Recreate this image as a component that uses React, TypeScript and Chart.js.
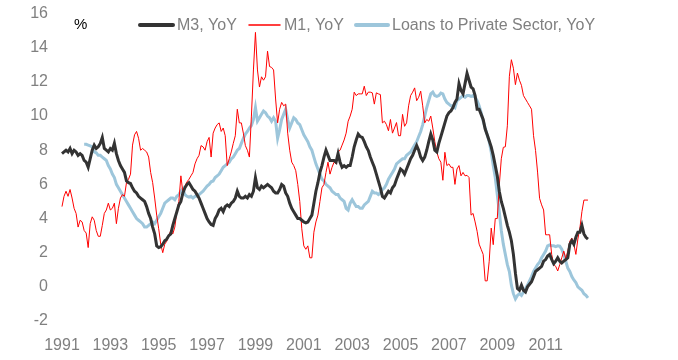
import React, { useEffect, useRef } from "react";
import { Chart, registerables } from "chart.js";

Chart.register(...registerables);

const START_YEAR = 1991;
const TICK_YEARS = [1991, 1993, 1995, 1997, 1999, 2001, 2003, 2005, 2007, 2009, 2011];
const Y_TICKS = [-2, 0, 2, 4, 6, 8, 10, 12, 14, 16];
const SERIES_LABELS = ["M3, YoY", "M1, YoY", "Loans to Private Sector, YoY"];
const UNIT_LABEL = "%";

// Monthly values, Jan 1991 .. Oct 2012
const M3 = [
  7.8, 7.9, 8.0, 7.9, 8.1, 7.8, 8.0, 7.9, 7.7, 7.8, 7.7, 7.4,
  7.3, 7.0, 7.5, 8.0, 8.3, 8.1, 8.2, 8.4, 8.75, 8.1, 8.0, 7.9,
  8.1, 8.0, 8.4, 7.8, 7.4, 7.1, 6.9, 6.7, 6.2, 6.1, 6.05, 5.8,
  5.6, 5.5, 5.3, 5.2, 5.1, 5.0, 4.7, 4.3, 4.0, 3.5, 3.1, 2.4,
  2.3, 2.35, 2.5, 2.7, 2.8, 3.0, 3.1, 3.6, 4.0, 4.4, 4.8, 5.0,
  5.5, 5.8, 6.0, 6.1, 5.9, 5.7, 5.6, 5.4, 5.2, 4.9, 4.6, 4.3,
  4.0, 3.8, 3.65, 3.6, 4.0, 4.2, 4.5, 4.6, 4.4, 4.7, 4.8, 4.7,
  4.9, 5.0, 5.2, 5.6, 5.3, 5.2, 5.2, 5.3, 5.2, 5.4, 5.3, 5.6,
  6.4, 5.8, 5.7, 5.9, 5.8, 5.9, 6.0, 5.9, 5.8, 5.6, 5.5, 5.5,
  5.7, 6.0, 5.9, 5.5, 5.3, 4.9, 4.6, 4.4, 4.2, 4.0, 4.0, 3.9,
  3.8, 3.75, 3.8, 4.0, 4.2, 4.9, 5.6, 6.1, 6.7, 7.1, 7.6, 8.0,
  7.7, 7.4, 7.4, 7.4, 7.3, 7.8, 7.3, 7.0, 7.1, 7.0, 7.1, 7.1,
  7.6, 8.2, 8.6, 8.95, 8.8, 8.75, 8.5, 8.2, 7.98, 7.6, 7.3, 7.0,
  6.6, 6.2, 5.8, 5.3, 5.2, 5.4, 5.6, 5.5, 5.8, 5.95, 6.3, 6.6,
  6.9, 6.8, 6.6, 6.9, 7.2, 7.5, 7.7, 8.0, 8.27, 8.0, 7.6, 7.4,
  7.6, 8.0, 8.5, 8.95, 8.6, 8.0, 7.9, 8.4, 8.8, 9.2, 9.6, 10.0,
  10.2, 10.3, 10.5, 10.8, 11.0, 11.9, 11.5, 11.3, 11.9, 12.5, 12.1, 11.7,
  11.6, 11.2, 10.4, 10.4, 10.1, 9.8, 9.24, 8.9, 8.56, 8.2, 7.7, 7.1,
  6.5, 5.6, 5.0, 4.6, 4.1, 3.6, 3.2, 2.7, 1.9, 0.8, -0.1, -0.2,
  0.1, -0.2, -0.3, 0.0, 0.15, 0.3, 0.6, 0.9, 1.0, 1.1, 1.2, 1.5,
  1.6, 1.8, 1.9, 1.6, 1.35, 1.5, 1.7, 1.5, 1.4, 1.5, 1.6, 1.7,
  2.5, 2.7, 2.5, 2.9, 3.2, 3.2, 3.6, 3.1, 2.9, 2.8,
];

const M1 = [
  4.7, 5.3, 5.6, 5.3, 5.7, 5.2, 4.6, 4.3, 3.5, 3.9, 3.8, 3.3,
  3.15, 2.3, 3.7, 4.1, 3.9, 3.3, 2.96, 2.96, 3.6, 4.3, 4.5, 4.9,
  4.5, 4.6, 4.9, 3.7, 4.6, 5.2, 5.4, 5.3, 6.1, 6.3, 6.6, 8.3,
  8.9, 9.1, 8.7, 8.0, 8.1, 8.0, 7.9, 7.6, 6.7, 6.1, 5.2, 4.2,
  3.4, 2.5, 2.0, 2.5, 2.67, 3.0, 3.3, 3.1, 3.5, 4.4, 5.0, 6.5,
  5.5, 5.9, 6.14, 6.3, 6.5, 6.7, 7.2, 7.5, 7.7, 8.27, 8.2, 8.0,
  8.5, 8.75, 7.6, 9.0, 9.3, 9.5, 9.6, 9.1, 9.3, 8.85, 7.1, 7.5,
  7.9, 8.4, 8.85, 10.4, 9.6, 9.6, 9.0, 8.27, 8.0, 7.6, 10.0, 12.7,
  14.9, 12.7, 11.7, 12.3, 12.1, 12.3, 13.8, 12.9, 12.85, 12.7, 11.0, 9.6,
  10.4, 10.8, 10.6, 10.7, 9.0, 8.0, 7.3, 7.1, 6.8, 6.0, 5.0, 3.4,
  2.4, 2.2, 2.4, 1.7, 1.7, 3.2, 3.8, 4.2, 5.0, 5.8, 6.0, 6.7,
  7.3, 6.6, 7.0, 7.3, 7.2, 7.9, 8.0, 8.3, 8.6, 9.0, 9.7, 10.0,
  10.4, 11.4, 11.2, 11.3, 11.3, 11.3, 11.75, 11.2, 11.4, 11.4, 11.36, 10.7,
  11.36, 11.3, 11.26, 9.6, 9.7, 9.5, 9.14, 9.8, 9.0, 9.3, 9.62, 8.85,
  8.85, 10.1, 9.4, 9.6, 10.6, 11.2, 11.4, 11.65, 10.9, 11.1, 11.46, 10.6,
  9.6, 9.8, 9.7, 10.0, 9.3, 8.5, 7.9, 7.5, 7.3, 6.24, 7.88, 7.1,
  7.2, 7.0, 7.0, 6.0, 6.9, 7.1, 6.5, 6.7, 6.5, 6.53, 6.4, 4.2,
  4.3, 3.8, 3.25, 2.5, 2.2, 1.9, 0.35, 0.35, 1.5, 3.44, 2.47, 4.0,
  4.0, 5.95, 7.5, 8.17, 8.2, 9.43, 12.33, 13.3, 12.8, 11.84, 12.52, 12.1,
  11.8, 11.2, 11.0, 10.8, 10.6, 10.4, 8.85, 7.98, 6.72, 5.18, 4.8, 4.5,
  3.05, 3.05, 3.05, 1.9, 1.31, 1.2, 0.93, 1.3, 1.7, 2.09, 1.65, 2.1,
  2.67, 2.86, 2.5, 1.9, 2.8, 3.44, 4.4, 5.08, 5.08, 5.08,
];

const LOANS = [
  null, null, null, null, null, null, null, null, null, null, null, 8.35,
  8.35, 8.3, 8.25, 8.2, 7.9, 7.85, 7.7, 7.7, 7.6, 7.5, 7.4, 7.1,
  6.9, 6.6, 6.4, 6.0, 5.8, 5.6, 5.4, 5.2, 5.0, 4.8, 4.6, 4.4,
  4.2, 4.0, 3.9, 3.8, 3.7, 3.5, 3.5, 3.6, 3.7, 3.8, 3.7, 3.9,
  4.1, 4.3, 4.6, 4.9, 5.0, 5.1, 5.2, 5.2, 5.1, 5.3, 5.4, 5.6,
  5.75, 5.4, 5.3, 5.25, 5.3, 5.2, 5.3, 5.3, 5.4, 5.5, 5.6, 5.75,
  5.9, 6.0, 6.15, 6.2, 6.4, 6.5, 6.6, 6.8, 7.0, 7.1, 7.2, 7.3,
  7.5, 7.6, 7.8, 8.0, 8.1, 8.4, 8.7, 8.95, 9.1, 9.3, 9.45, 9.8,
  10.5, 9.7, 9.9, 10.1, 10.3, 10.2, 10.0, 9.9, 9.7, 9.9, 9.7, 8.7,
  9.2, 9.8, 10.1, 10.4, 9.8, 9.3, 9.6, 9.9, 9.8, 9.6, 9.5, 9.2,
  8.9, 8.7, 8.5, 8.2, 8.0, 7.6, 7.2, 6.9, 6.6, 6.3, 6.2, 6.0,
  5.9, 5.8, 5.6, 5.5, 5.4, 5.4, 5.2, 5.1, 5.0, 4.6, 4.5, 4.9,
  5.1, 4.9, 4.7, 4.7, 4.6, 4.6, 4.8, 4.9, 5.0, 5.3, 5.6, 5.5,
  5.5, 5.4, 5.5, 5.7, 5.8, 6.0, 6.3, 6.5, 6.7, 6.9, 7.2, 7.3,
  7.4, 7.5, 7.5, 7.7, 7.8, 7.9, 8.1, 8.3, 8.5, 8.8, 9.1, 9.5,
  10.0, 10.5, 10.9, 11.3, 11.4, 11.2, 11.15, 11.2, 11.35, 11.3, 11.0, 10.8,
  10.7, 10.6, 10.6, 10.5, 10.9, 11.0, 11.1, 11.2, 11.1, 11.2, 11.2, 11.15,
  11.2, 11.1, 10.9, 10.6, 10.2, 9.7, 9.3, 8.9, 8.5, 7.9, 7.1, 6.4,
  5.4, 4.4, 3.3, 2.5, 1.9, 1.3, 0.9, 0.1, -0.4, -0.7, -0.5, -0.4,
  -0.5, -0.3, -0.1, 0.1, 0.35, 0.6, 0.9, 1.1, 1.3, 1.45, 1.7, 1.9,
  2.1, 2.4, 2.45, 2.4, 2.4, 2.35, 2.4, 2.38, 2.2, 1.9, 1.5, 1.1,
  0.9, 0.6, 0.4, 0.25, 0.0, -0.1, -0.2, -0.4, -0.5, -0.65,
];

const COLORS = {
  m3: "#333333",
  m1: "#ff0000",
  loans: "#9dc6db",
  text: "#808080",
};

function toPoints(values: (number | null)[]) {
  return values.map((v, i) => ({ x: START_YEAR + i / 12, y: v }));
}

const legendPlugin = {
  id: "customLegend",
  afterDraw(chart: any) {
    const ctx = chart.ctx;
    ctx.save();
    const y = 25;
    ctx.textBaseline = "middle";
    ctx.font = "15px 'Liberation Sans', Arial, sans-serif";
    ctx.fillStyle = "#000000";
    ctx.fillText(UNIT_LABEL, 74, y);
    const items = [
      { x0: 140, x1: 173, tx: 177, color: COLORS.m3, w: 4, label: SERIES_LABELS[0] },
      { x0: 249, x1: 280, tx: 284, color: COLORS.m1, w: 1.5, label: SERIES_LABELS[1] },
      { x0: 356, x1: 388, tx: 392, color: COLORS.loans, w: 4, label: SERIES_LABELS[2] },
    ];
    ctx.font = "16px 'Liberation Sans', Arial, sans-serif";
    for (const it of items) {
      ctx.beginPath();
      ctx.strokeStyle = it.color;
      ctx.lineWidth = it.w;
      ctx.lineCap = "round";
      ctx.moveTo(it.x0, y);
      ctx.lineTo(it.x1, y);
      ctx.stroke();
      ctx.fillStyle = COLORS.text;
      ctx.fillText(it.label, it.tx, y + 1);
    }
    ctx.restore();
  },
};

export default function App() {
  const canvasRef = useRef<HTMLCanvasElement | null>(null);

  useEffect(() => {
    if (!canvasRef.current) return;
    const chart = new Chart(canvasRef.current, {
      type: "line",
      data: {
        datasets: [
          {
            label: SERIES_LABELS[0],
            data: toPoints(M3),
            borderColor: COLORS.m3,
            borderWidth: 3,
            pointRadius: 0,
            tension: 0,
          },
          {
            label: SERIES_LABELS[1],
            data: toPoints(M1),
            borderColor: COLORS.m1,
            borderWidth: 1,
            pointRadius: 0,
            tension: 0,
          },
          {
            label: SERIES_LABELS[2],
            data: toPoints(LOANS),
            borderColor: COLORS.loans,
            borderWidth: 3,
            pointRadius: 0,
            tension: 0,
          },
        ],
      },
      options: {
        animation: false,
        responsive: false,
        devicePixelRatio: 1,
        layout: { padding: { left: 0, right: 84, top: 8, bottom: 0 } },
        plugins: { legend: { display: false }, tooltip: { enabled: false } },
        scales: {
          x: {
            type: "linear",
            min: 1990.587,
            max: 2013,
            grid: { display: false, drawTicks: false },
            border: { display: false },
            afterBuildTicks: (axis: any) => {
              axis.ticks = TICK_YEARS.map((v) => ({ value: v }));
            },
            afterFit: (axis: any) => {
              axis.height = 39;
            },
            ticks: {
              autoSkip: false,
              maxRotation: 0,
              padding: 15,
              color: COLORS.text,
              font: { size: 16, family: "'Liberation Sans', Arial, sans-serif" },
              callback: (v: any) => String(v),
            },
          },
          y: {
            min: -2,
            max: 16,
            grid: { display: false, drawTicks: false },
            border: { display: false },
            afterBuildTicks: (axis: any) => {
              axis.ticks = Y_TICKS.map((v) => ({ value: v }));
            },
            afterFit: (axis: any) => {
              axis.width = 52;
            },
            ticks: {
              padding: 4,
              color: COLORS.text,
              font: { size: 16, family: "'Liberation Sans', Arial, sans-serif" },
              callback: (v: any) => String(v),
            },
          },
        },
      },
      plugins: [legendPlugin],
    });
    return () => chart.destroy();
  }, []);

  return (
    <div style={{ position: "fixed", left: 0, top: 0, width: 678, height: 360, background: "#fff" }}>
      <canvas ref={canvasRef} width={678} height={360} />
    </div>
  );
}
